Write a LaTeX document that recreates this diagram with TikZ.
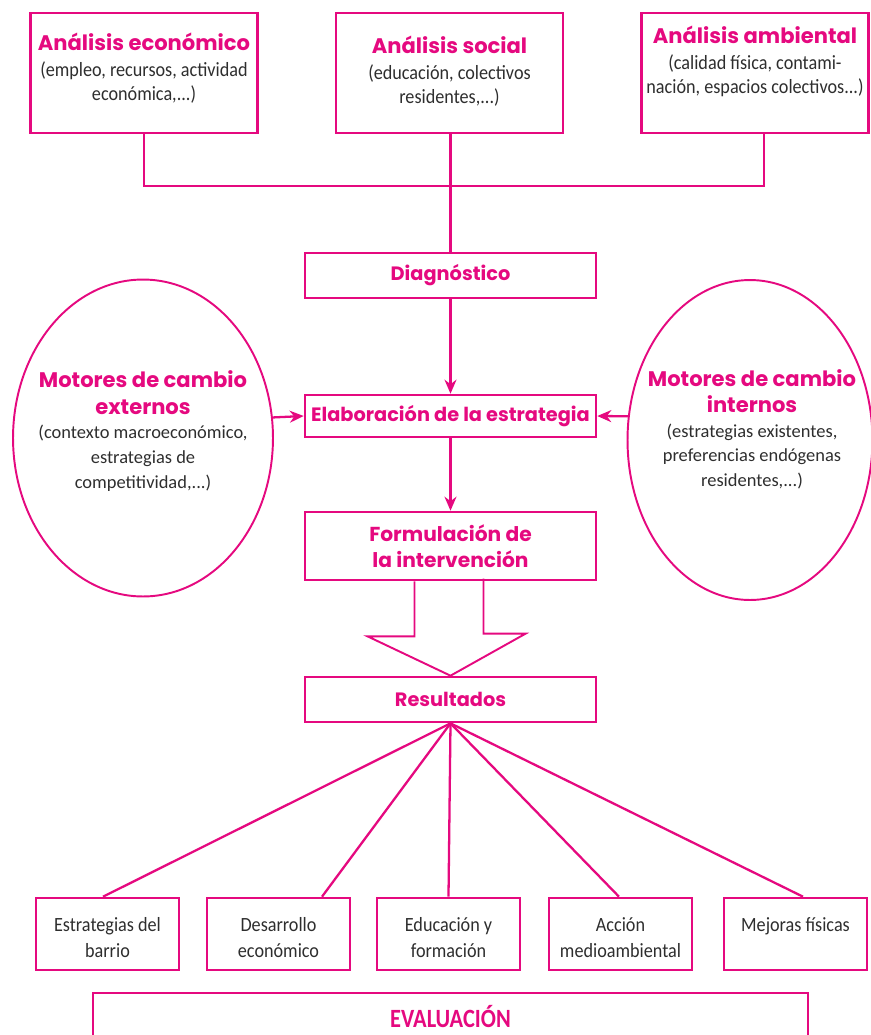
\documentclass[tikz,border=0pt]{standalone}
\usepackage{fontspec}
\setmainfont{Carlito}
\newfontfamily\titlefont{Poppins}
\newfontfamily\condfont{Carlito}[FakeStretch=0.9]
\newfontfamily\evalfont{Carlito Bold}[FakeStretch=0.85]
\usetikzlibrary{arrows.meta,shapes.geometric}
\definecolor{rosa}{HTML}{E5097F}
\definecolor{texto}{HTML}{2E2E2E}
% texto de las cajas de analisis y de las elipses
\newcommand{\cajatexto}[3][1.6cm]{\parbox[c][#1][t]{4.4cm}{\centering{\titlefont\bfseries\color{rosa}\fontsize{12}{15}\selectfont #2\par}\vspace{1pt}{\condfont\color{texto}\fontsize{11.5}{13.6}\selectfont #3\par}}}
\newcommand{\motortexto}[2]{\parbox{4.4cm}{\centering{\titlefont\bfseries\color{rosa}\fontsize{12}{15}\selectfont #1\par}{\color{texto}\fontsize{10.5}{14}\selectfont #2\par}}}
\begin{document}
\begin{tikzpicture}[x=0.02cm,y=-0.02cm,
        caja/.style={draw=rosa,line width=1.5pt,minimum width=5.82cm,minimum height=0.9cm,inner sep=0pt,
            text=rosa,font=\titlefont\bfseries\fontsize{11}{14}\selectfont,align=center},
        analisis/.style={draw=rosa,line width=1.5pt,minimum width=4.54cm,minimum height=2.4cm,inner sep=0pt},
        motor/.style={ellipse,draw=rosa,line width=1.1pt,inner sep=0pt},
        resultado/.style={draw=rosa,line width=1.5pt,minimum width=2.86cm,minimum height=1.44cm,inner sep=0pt},
        linea/.style={rosa,line width=1.3pt},
        flecha/.style={linea,-{Stealth[length=0.28cm,width=0.24cm]}}]
    \useasboundingbox (0,0) rectangle (870,1035);
    % analisis
    \node[analisis] at (144,73)(econ){\cajatexto{Análisis económico}{(empleo, recursos, actividad\\económica,...)}};
    \node[analisis] at (449.5,73)(social){\cajatexto[1.48cm]{Análisis social}{(educación, colectivos\\residentes,...)}};
    \node[analisis] at (755,73)(amb){\cajatexto[1.88cm]{Análisis ambiental}{(calidad física, contami-\\nación, espacios colectivos...)}};
    \draw[linea] (econ.south) -- ++(0,52) -| ([xshift=0.18cm]amb.south);
    % eje central
    \node[caja] at (450.5,275.5)(diag){Diagnóstico};
    \node[caja,minimum height=0.84cm] at (450.5,416)(elab){Elaboración de la estrategia};
    \node[caja,minimum height=1.36cm,font=\titlefont\bfseries\fontsize{11.5}{14.5}\selectfont] at (450.5,546)(form){Formulación de\\la intervención};
    \node[caja] at (450.5,699.5)(res){Resultados};
    \draw[linea] (social.south -| diag.north) -- (diag.north);
    \draw[flecha] (diag) -- (elab);
    \draw[flecha] (elab) -- (form);
    % motores de cambio
    \node[motor,minimum width=5.2cm,minimum height=6.34cm] at (143,438)(lext){};
    \node at (143,431)(lextt){\motortexto{Motores de cambio\\externos}{(contexto macroeconómico,\\estrategias de\\competitividad,...)}};
    \node[motor,minimum width=4.9cm,minimum height=6.4cm] at (750,440)(rint){};
    \node at (752,429)(rintt){\motortexto{Motores de cambio\\internos}{(estrategias existentes,\\preferencias endógenas\\residentes,...)}};
    \draw[flecha] (lext.9) -- (elab.west);
    \draw[flecha] (rint.169) -- (elab.east);
    % flecha hueca
    \draw[rosa,line width=1.1pt] (form.south) ++(-36,0) -- ++(0,55) -- ++(-47,0) -- (res.north) -- ++(75,-42) -- ++(-42,0) -- ++(0,-55);
    % resultados
    \foreach \x/\nom/\txt in {107.5/b1/{Estrategias del\\barrio},278.5/b2/{Desarrollo\\económico},448.5/b3/{Educación y\\formación},620.5/b4/{Acción\\medioambiental},795.5/b5/{Mejoras físicas}}{
        \node[resultado] at (\x,934)(\nom){\parbox[c][0.66cm][t]{2.76cm}{\centering\condfont\color{texto}\fontsize{11.5}{14.7}\selectfont\txt}};
    }
    \foreach \nom/\dx in {b1/-0.09,b2/0.87,b3/0,b4/-0.03,b5/0.15}
        \draw[linea] (res.south) -- ([xshift=\dx cm]\nom.north);
    \node[draw=rosa,line width=1.5pt,minimum width=14.3cm,minimum height=1.6cm,inner sep=0pt] at (450.5,1033)(eval){\parbox[c][1.1cm][t]{5cm}{\centering\evalfont\color{rosa}\fontsize{15}{17}\selectfont EVALUACIÓN}};
\end{tikzpicture}
\end{document}
